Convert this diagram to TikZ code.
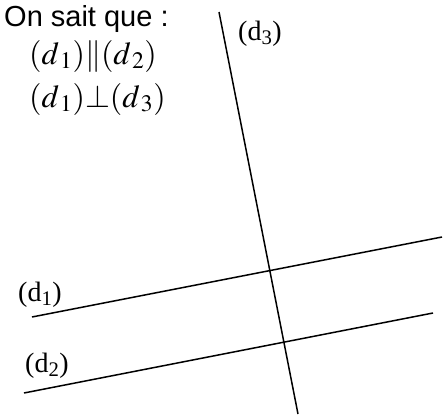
\documentclass[tikz,border=0pt]{standalone}
\usepackage{amsmath}
\usepackage{mathptmx}
\usepackage{fontspec}
\setmainfont{Liberation Serif}
\setsansfont{Liberation Sans}
\usepackage{tikz}

\begin{document}
\begin{tikzpicture}[x=1pt, y=-1pt, every node/.style={inner sep=0pt}, droite/.style={line width=1.5pt}, lab/.style={font=\fontsize{28}{30}\selectfont, anchor=base west}, hyp/.style={font=\fontsize{32}{34}\selectfont, anchor=base west}]
\useasboundingbox (0,0) rectangle (448,415);
% les droites
\coordinate (d1a) at (32,317); \coordinate (d1b) at (442,237);
\coordinate (d2a) at (24,393); \coordinate (d2b) at (433,313);
\coordinate (d3a) at (219,12); \coordinate (d3b) at (298,414);
\draw[droite] (d1a)--(d1b); \draw[droite] (d2a)--(d2b); \draw[droite] (d3a)--(d3b);
% noms des droites
\node[lab] (n3) at (238,40) {(d\textsubscript{3})};
\node[lab] (n1) at (18,301) {(d\textsubscript{1})};
\node[lab] (n2) at (25,372) {(d\textsubscript{2})};
% hypotheses
\node[anchor=base west, font=\sffamily\fontsize{29}{32}\selectfont] (titre) at (4,27) {On sait que :};
\node[hyp] (h1) at (29,64) {$(d_{\,1})\|(d_{\,2})$};
\node[hyp] (h2) at (29,107) {$(d_{\,1}){\perp}(d_{\,3})$};
\end{tikzpicture}
\end{document}
